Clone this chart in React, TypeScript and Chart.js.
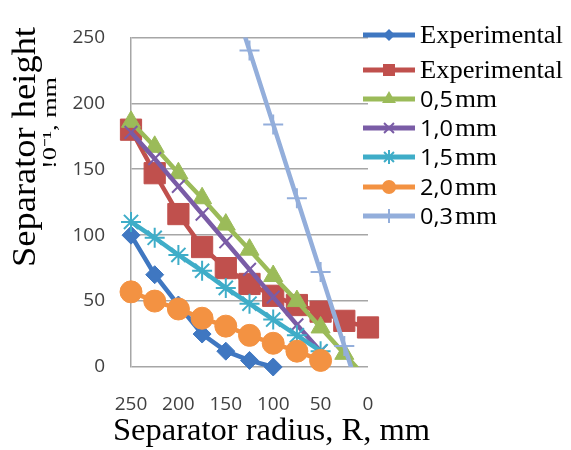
import React, { useEffect, useRef } from "react";
import { Chart, registerables } from "chart.js";

Chart.register(...registerables);

// ---------- data ----------
const seriesLabels = ["Experimental", "Experimental", "0,5 mm", "1,0 mm", "1,5 mm", "2,0 mm", "0,3 mm"];

const expBlueR = [250, 225, 200, 175, 150, 125, 100];
const expBlueH = [100, 70, 47, 25, 12, 5, 0];

const expRedR = [250, 225, 200, 175, 150, 125, 100, 75, 50, 25, 0];
const expRedH = [180, 147, 116, 91, 75, 63, 54, 47, 42, 35, 30];

const mm05R = [250, 225, 200, 175, 150, 125, 100, 75, 50, 25, 0];
const mm05H = [186, 167, 147, 128, 108, 89, 69, 50, 30, 10, -10];

const mm10R = [250, 225, 200, 175, 150, 125, 100, 75, 50];
const mm10H = [178, 158, 137, 116, 95, 74, 53, 32, 12];

const mm15R = [250, 225, 200, 175, 150, 125, 100, 75, 50];
const mm15H = [110, 98, 85, 73, 60, 48, 36, 24, 12];

const mm20R = [250, 225, 200, 175, 150, 125, 100, 75, 50];
const mm20H = [57, 50, 44, 37, 31, 24, 18, 12, 5];

const mm03R = [150, 125, 100, 75, 50, 25, 0];
const mm03H = [296, 240, 184, 128, 72, 16, -40];

const xTickValues = [250, 200, 150, 100, 50, 0];
const yTickValues = [0, 50, 100, 150, 200, 250];

const xTitle = "Separator radius, R, mm";
const yTitle = "Separator height";
const yTitle2 = "!0\u207B\u00B9, mm";

// ---------- styles ----------
const seriesColors = ["#3F77C1", "#C0504D", "#9BBB59", "#7A5CA6", "#3FADC8", "#F39242", "#93AEDB"];
const seriesPointStyles = ["rectRot", "rect", "triangle", "crossRot", "star", "circle", "cross"];
const seriesPointRadius = [9, 15, 11, 9, 10, 11, 10];
const seriesPointBorder = [1, 1, 1, 2, 2, 1, 2];
const legendMarkerR = [6, 6, 8, 7, 7, 7, 7];

const SERIF = "'Liberation Serif', 'Times New Roman', serif";
const SANS = "'Open Sans', 'Liberation Sans', sans-serif";

function zip(xs: number[], ys: number[]) {
  return xs.map((x, i) => ({ x, y: ys[i] }));
}

function drawText(
  ctx: CanvasRenderingContext2D,
  text: string,
  x: number,
  y: number,
  font: string,
  color: string,
  targetW?: number,
  rotate = false,
  align: CanvasTextAlign = "left"
) {
  ctx.save();
  ctx.font = font;
  ctx.fillStyle = color;
  ctx.textBaseline = "alphabetic";
  ctx.textAlign = align;
  const w = ctx.measureText(text).width;
  const sx = targetW ? targetW / w : 1;
  ctx.translate(x, y);
  if (rotate) ctx.rotate(-Math.PI / 2);
  ctx.scale(sx, 1);
  ctx.fillText(text, 0, 0);
  ctx.restore();
}

function drawMarker(ctx: CanvasRenderingContext2D, style: string, x: number, y: number, r: number, color: string) {
  ctx.save();
  ctx.fillStyle = color;
  ctx.strokeStyle = color;
  ctx.lineWidth = 2;
  ctx.beginPath();
  const d = r * 0.7071;
  switch (style) {
    case "rectRot":
      ctx.moveTo(x, y - r);
      ctx.lineTo(x + r, y);
      ctx.lineTo(x, y + r);
      ctx.lineTo(x - r, y);
      ctx.closePath();
      ctx.fill();
      break;
    case "rect":
      ctx.rect(x - r, y - r, 2 * r, 2 * r);
      ctx.fill();
      break;
    case "triangle":
      ctx.moveTo(x, y - r);
      ctx.lineTo(x + r * 0.866, y + r / 2);
      ctx.lineTo(x - r * 0.866, y + r / 2);
      ctx.closePath();
      ctx.fill();
      break;
    case "circle":
      ctx.arc(x, y, r, 0, Math.PI * 2);
      ctx.fill();
      break;
    case "crossRot":
      ctx.moveTo(x - d, y - d);
      ctx.lineTo(x + d, y + d);
      ctx.moveTo(x + d, y - d);
      ctx.lineTo(x - d, y + d);
      ctx.stroke();
      break;
    case "cross":
      ctx.moveTo(x - r, y);
      ctx.lineTo(x + r, y);
      ctx.moveTo(x, y - r);
      ctx.lineTo(x, y + r);
      ctx.stroke();
      break;
    case "star":
      ctx.moveTo(x - r, y);
      ctx.lineTo(x + r, y);
      ctx.moveTo(x, y - r);
      ctx.lineTo(x, y + r);
      ctx.moveTo(x - d, y - d);
      ctx.lineTo(x + d, y + d);
      ctx.moveTo(x + d, y - d);
      ctx.lineTo(x - d, y + d);
      ctx.stroke();
      break;
  }
  ctx.restore();
}

const decorPlugin = {
  id: "decor",
  afterDraw(chart: any) {
    const ctx: CanvasRenderingContext2D = chart.ctx;
    // axis titles
    drawText(ctx, xTitle, 113, 440, `32px ${SERIF}`, "#000", 317);
    drawText(ctx, yTitle, 35, 147, `33px ${SERIF}`, "#000", 240, true, "center");
    drawText(ctx, yTitle2, 56, 123, `19px ${SERIF}`, "#000", 92, true, "center");

    // legend
    const rowY = [35, 70, 99, 128, 157, 187, 216];
    seriesLabels.forEach((label, i) => {
      const y = rowY[i];
      const c = seriesColors[i];
      ctx.save();
      ctx.strokeStyle = c;
      ctx.lineWidth = 5;
      ctx.lineCap = "butt";
      ctx.beginPath();
      ctx.moveTo(363, y);
      ctx.lineTo(415, y);
      ctx.stroke();
      ctx.restore();
      drawMarker(ctx, seriesPointStyles[i], 389, y, legendMarkerR[i], c);
      const base = y + 8;
      if (label.endsWith("mm") && label.includes(" ")) {
        const [num, unit] = label.split(" ");
        drawText(ctx, num, 420, base, `21px ${SANS}`, "#000", 33);
        drawText(ctx, unit, 455, base, `25px ${SERIF}`, "#000", 42);
      } else {
        drawText(ctx, label, 420, base, `25px ${SERIF}`, "#000", 143);
      }
    });
  },
};

export default function App() {
  const ref = useRef<HTMLCanvasElement | null>(null);

  useEffect(() => {
    if (!ref.current) return;
    const series = [
      zip(expBlueR, expBlueH),
      zip(expRedR, expRedH),
      zip(mm05R, mm05H),
      zip(mm10R, mm10H),
      zip(mm15R, mm15H),
      zip(mm20R, mm20H),
      zip(mm03R, mm03H),
    ];
    const clipAll = { left: false, right: false, top: false, bottom: false };
    const clipTB = { left: false, right: false, top: 0, bottom: 0 };
    const datasets = series.map((data, i) => ({
      label: seriesLabels[i],
      data,
      borderColor: seriesColors[i],
      backgroundColor: seriesColors[i],
      pointBackgroundColor: seriesColors[i],
      pointBorderColor: seriesColors[i],
      borderWidth: 4.5,
      pointStyle: seriesPointStyles[i],
      pointRadius: seriesPointRadius[i],
      pointBorderWidth: seriesPointBorder[i],
      pointHoverRadius: seriesPointRadius[i],
      tension: 0,
      fill: false,
      order: -i,
      clip: i === 2 || i === 6 ? clipTB : clipAll,
    }));

    const chart = new Chart(ref.current, {
      type: "line",
      data: { datasets: datasets as any },
      options: {
        animation: false,
        responsive: false,
        events: [],
        layout: { padding: { left: 0, right: 203, top: 22, bottom: 0 } },
        plugins: {
          legend: { display: false },
          tooltip: { enabled: false },
          title: { display: false },
        },
        scales: {
          x: {
            type: "linear",
            reverse: true,
            min: 0,
            max: 250,
            afterBuildTicks: (s: any) => {
              s.ticks = xTickValues.map((v) => ({ value: v }));
            },
            afterFit: (s: any) => {
              s.height = 83;
            },
            grid: { display: false, drawTicks: false },
            border: { display: false },
            ticks: {
              padding: 26,
              color: "#404040",
              font: { family: SANS, size: 19 },
              maxRotation: 0,
              autoSkip: false,
            },
          },
          y: {
            type: "linear",
            min: 0,
            max: 250,
            afterBuildTicks: (s: any) => {
              s.ticks = yTickValues.map((v) => ({ value: v }));
            },
            afterFit: (s: any) => {
              s.width = 131;
            },
            grid: { color: "#A6A6A6", lineWidth: 1.5, drawTicks: false },
            border: { display: true, color: "#A6A6A6", width: 1.5 },
            ticks: {
              padding: 26,
              color: "#404040",
              font: { family: SANS, size: 19 },
              autoSkip: false,
            },
          },
        },
      },
      plugins: [decorPlugin],
    });
    return () => chart.destroy();
  }, []);

  return (
    <div style={{ position: "absolute", left: 0, top: 0, width: 571, height: 450, background: "#fff" }}>
      <canvas ref={ref} width={571} height={450} style={{ width: 571, height: 450 }} />
    </div>
  );
}
